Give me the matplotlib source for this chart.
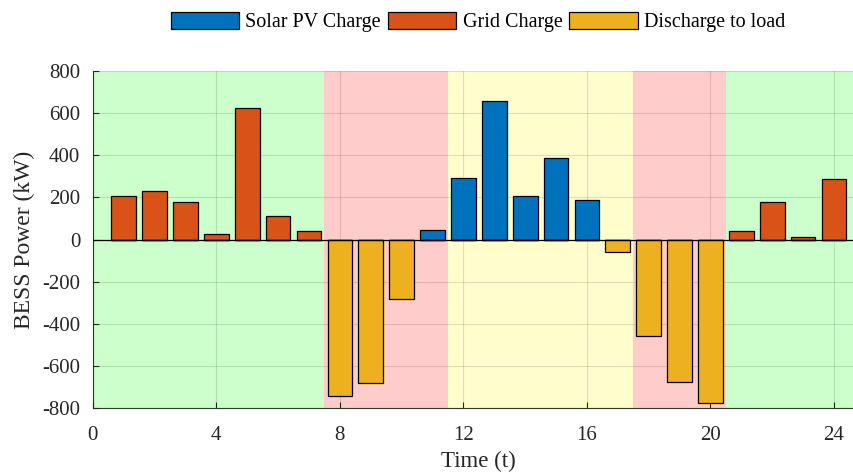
import matplotlib
matplotlib.use('Agg')
import matplotlib.pyplot as plt
import numpy as np

plt.rcParams['font.family'] = ['Liberation Serif', 'DejaVu Serif']
plt.rcParams['axes.unicode_minus'] = False

# hourly BESS power (kW), split by source
hours = list(range(1, 25))
solar_pv = [0, 0, 0, 0, 0, 0, 0, 0, 0, 0, 46, 292, 656, 206, 386, 186, 0, 0, 0, 0, 0, 0, 0, 0]
grid_charge = [206, 230, 180, 25, 624, 112, 39, 0, 0, 0, 0, 0, 0, 0, 0, 0, 0, 0, 0, 0, 39, 180, 14, 287]
discharge = [0, 0, 0, 0, 0, 0, 0, -744, -678, -281, 0, 0, 0, 0, 0, 0, -57, -457, -675, -776, 0, 0, 0, 0]

# tariff periods (start, end, colour)
periods = [(0, 7.5, '#CCFFCC'), (7.5, 11.5, '#FFCCCC'), (11.5, 17.5, '#FFFDCC'),
           (17.5, 20.5, '#FFCCCC'), (20.5, 25, '#CCFFCC')]

fig = plt.figure(figsize=(8.54, 4.74), dpi=100)
ax = fig.add_axes([0.1087, 0.1386, 0.904, 0.7122])

for start, end, color in periods:
    ax.axvspan(start, end, color=color, lw=0, zorder=0)

ax.grid(True, color='k', alpha=0.12, lw=0.8, zorder=1)
ax.set_axisbelow(False)

x = np.array(hours)
ax.bar(x, solar_pv, width=0.8, color='#0072BD', edgecolor='k', lw=0.9, label='Solar PV Charge', zorder=3)
ax.bar(x, grid_charge, width=0.8, color='#D95319', edgecolor='k', lw=0.9, label='Grid Charge', zorder=3)
ax.bar(x, discharge, width=0.8, color='#EDB120', edgecolor='k', lw=0.9, label='Discharge to load', zorder=3)
ax.axhline(0, color='k', lw=0.9, zorder=4)

ax.set_xlim(0, 25)
ax.set_ylim(-800, 800)
ax.set_xticks([0, 4, 8, 12, 16, 20, 24])
ax.set_yticks(range(-800, 801, 200))
ax.tick_params(direction='in', length=4, labelsize=15, colors='#262626')
ax.tick_params(axis='y', pad=9)
ax.tick_params(axis='x', pad=13)
for side in ['top', 'right']:
    ax.spines[side].set_visible(False)
for side in ['left', 'bottom']:
    ax.spines[side].set_color('#26401f')

ax.set_xlabel('Time (t)', fontsize=16.5, color='#262626', labelpad=4)
ax.set_ylabel('BESS Power (kW)', fontsize=17, color='#262626', labelpad=5)

ax.legend(loc='center', bbox_to_anchor=(478 / 854, 1 - 22 / 474), bbox_transform=fig.transFigure,
          ncol=3, frameon=False, fontsize=14.5, handlelength=3.4, handleheight=0.95,
          handletextpad=0.3, columnspacing=0.35)

plt.savefig('out.png', dpi=100)
